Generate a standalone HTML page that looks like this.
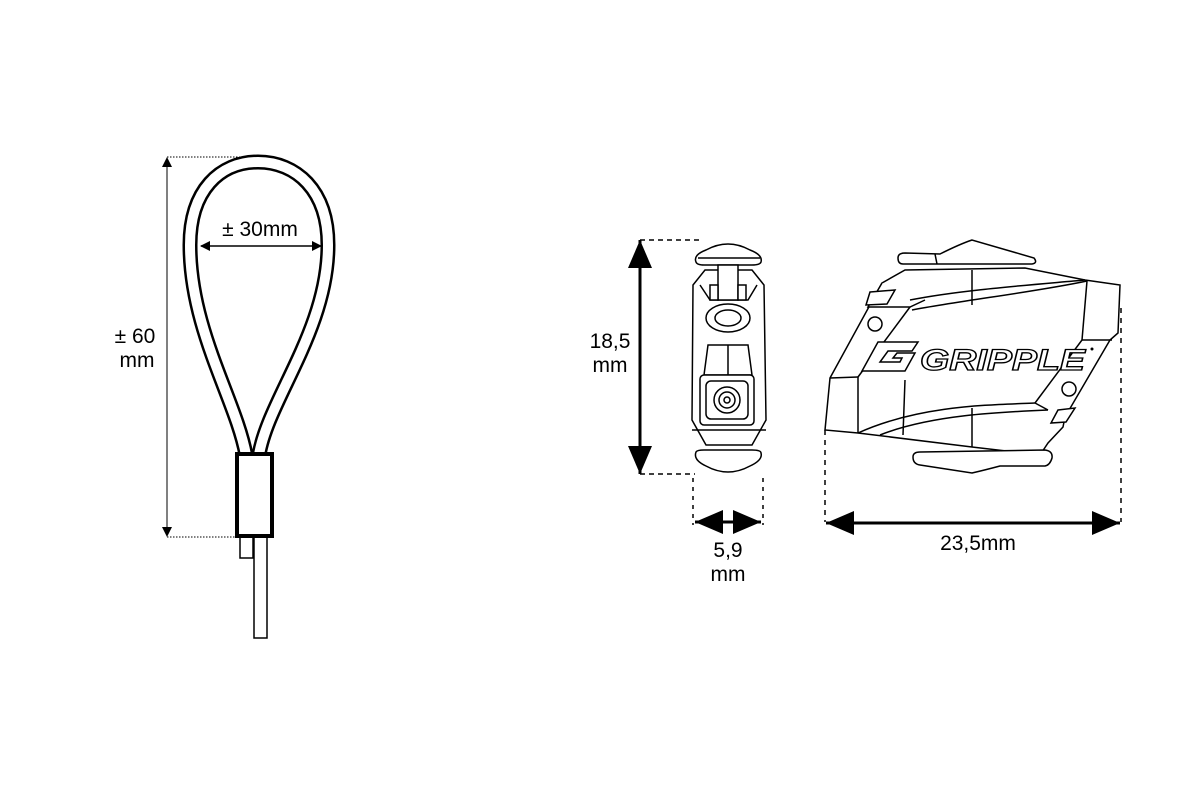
<!DOCTYPE html>
<html><head><meta charset="utf-8"><style>
html,body{margin:0;padding:0;background:#fff}
svg{display:block}
text{font-family:"Liberation Sans",sans-serif}
</style></head><body>
<svg width="1198" height="798" viewBox="0 0 1198 798" xmlns="http://www.w3.org/2000/svg">
<defs>
<marker id="a" markerWidth="10" markerHeight="10" refX="9" refY="5" orient="auto-start-reverse" markerUnits="userSpaceOnUse"><path d="M0,0 L10,5 L0,10 Z" fill="#000"/></marker>
<marker id="b" markerWidth="30" markerHeight="24" refX="28" refY="12" orient="auto-start-reverse" markerUnits="userSpaceOnUse"><path d="M0,0 L28,12 L0,24 Z" fill="#000"/></marker>
</defs>

<!-- LEFT: wire loop -->
<line x1="167" y1="157" x2="240" y2="157" stroke="#000" stroke-width="1" stroke-dasharray="1.5,1.5"/>
<line x1="167" y1="537" x2="240" y2="537" stroke="#000" stroke-width="1" stroke-dasharray="1.5,1.5"/>
<line x1="167" y1="158" x2="167" y2="536" stroke="#000" stroke-width="1" marker-start="url(#a)" marker-end="url(#a)"/>
<path d="M246,455 C236,400 190,330 190,245 C190,190 220,162 258,162 C296,162 328,190 328,245 C328,330 268,400 259,455" fill="none" stroke="#000" stroke-width="15"/>
<path d="M246,455 C236,400 190,330 190,245 C190,190 220,162 258,162 C296,162 328,190 328,245 C328,330 268,400 259,455" fill="none" stroke="#fff" stroke-width="10"/>
<rect x="254" y="537" width="13" height="101" fill="#fff" stroke="#000" stroke-width="1.5"/>
<rect x="240" y="537" width="13" height="21" fill="#fff" stroke="#000" stroke-width="1.5"/>
<rect x="237" y="454" width="35" height="82" fill="#fff" stroke="#000" stroke-width="4"/>
<line x1="201" y1="246" x2="321" y2="246" stroke="#000" stroke-width="1.5" marker-start="url(#a)" marker-end="url(#a)"/>
<text x="260" y="236" font-size="21" text-anchor="middle" fill="#000">± 30mm</text>
<text x="135" y="343" font-size="21" text-anchor="middle" fill="#000">± 60</text>
<text x="137" y="367" font-size="21" text-anchor="middle" fill="#000">mm</text>

<!-- MIDDLE: side view -->
<line x1="640" y1="240" x2="700" y2="240" stroke="#000" stroke-width="1.5" stroke-dasharray="5,4"/>
<line x1="640" y1="474" x2="695" y2="474" stroke="#000" stroke-width="1.5" stroke-dasharray="5,4"/>
<line x1="640" y1="240" x2="640" y2="474" stroke="#000" stroke-width="3" marker-start="url(#b)" marker-end="url(#b)"/>
<text x="610" y="348" font-size="21" text-anchor="middle" fill="#000">18,5</text>
<text x="610" y="372" font-size="21" text-anchor="middle" fill="#000">mm</text>
<g fill="#fff" stroke="#000" stroke-width="1.5">
<path d="M696,262 Q693,255 706,250 Q728,238 750,250 Q763,255 761,262 Q760,265 752,265 L704,265 Q697,265 696,262 Z"/>
<line x1="698" y1="258" x2="760" y2="258"/>
<path d="M693,285 L705,270 L752,270 L764,285 L766,420 L752,445 L706,445 L692,420 Z"/>
<path d="M700,285 L710,300 L748,300 L757,285"/>
<ellipse cx="728" cy="318" rx="22" ry="14"/>
<ellipse cx="728" cy="318" rx="13" ry="8"/>
<rect x="718" y="265" width="20" height="35"/>
<rect x="710" y="285" width="8" height="15"/>
<rect x="738" y="285" width="8" height="15"/>
<path d="M708,345 L748,345 L752,375 L704,375 Z"/>
<line x1="728" y1="345" x2="728" y2="375"/>
<rect x="700" y="375" width="54" height="50" rx="4"/>
<rect x="706" y="381" width="42" height="38" rx="5"/>
<circle cx="727" cy="400" r="13"/>
<circle cx="727" cy="400" r="8"/>
<circle cx="727" cy="400" r="3"/>
<line x1="692" y1="430" x2="766" y2="430"/>
<path d="M696,452 Q697,450 704,450 L752,450 Q761,450 761,453 Q763,460 750,466 Q728,478 706,466 Q693,460 696,452 Z"/>
</g>
<line x1="693" y1="478" x2="693" y2="525" stroke="#000" stroke-width="1.5" stroke-dasharray="4,5"/>
<line x1="763" y1="478" x2="763" y2="525" stroke="#000" stroke-width="1.5" stroke-dasharray="4,5"/>
<line x1="695" y1="522" x2="761" y2="522" stroke="#000" stroke-width="3" marker-start="url(#b)" marker-end="url(#b)"/>
<text x="728" y="557" font-size="21" text-anchor="middle" fill="#000">5,9</text>
<text x="728" y="581" font-size="21" text-anchor="middle" fill="#000">mm</text>

<!-- RIGHT: gripple body -->
<g fill="#fff" stroke="#000" stroke-width="1.5">
<path d="M898,258 Q898,253 905,253 L940,254 Q960,244 972,240 L1034,258 Q1038,263 1032,264 L903,264 Q898,264 898,258 Z"/>
<line x1="935" y1="254" x2="937" y2="264"/>
<path d="M882,283 L905,270 L1025,268 L1085,280 L1120,285 L1118,333 L1110,340 L1065,417 L1063,427 L1048,443 L1040,455 L972,447 L858,433 L825,430 L830,378 Z"/>
<path d="M913,457 Q913,452 920,452 L1045,450 Q1053,451 1052,458 Q1050,465 1045,466 L1000,466 Q985,470 972,473 L920,465 Q913,464 913,457 Z"/>
<path d="M882,283 L868,307 L910,307 L925,300"/>
<path d="M910,300 C960,290 1030,285 1085,280"/>
<path d="M912,310 C965,300 1035,292 1087,281"/>
<path d="M910,307 L858,377"/>
<path d="M830,378 L858,377"/>
<line x1="858" y1="377" x2="858" y2="433"/>
<line x1="1087" y1="281" x2="1082" y2="340"/>
<line x1="1082" y1="340" x2="1112" y2="340"/>
<path d="M1082,340 L1035,403"/>
<path d="M858,433 C920,405 990,405 1035,403"/>
<path d="M880,435 C930,415 1000,412 1048,410"/>
<line x1="1035" y1="403" x2="1048" y2="410"/>
<line x1="972" y1="270" x2="972" y2="305"/>
<line x1="972" y1="408" x2="972" y2="447"/>
<line x1="905" y1="380" x2="903" y2="435"/>
<circle cx="875" cy="324" r="7"/>
<circle cx="1069" cy="389" r="7"/>
<path d="M870,292 L895,290 L887,304 L866,305 Z"/>
<path d="M1058,410 L1075,408 L1066,422 L1051,423 Z"/>
<path d="M878,342 L918,342 L912,351 L888,351 L880,362 L900,362 L902,358 L893,358 L897,353 L915,353 L905,371 L862,371 Z"/>
</g>
<text x="920" y="370" font-size="30" font-weight="bold" font-style="italic" style="fill:#fff;stroke:#000;stroke-width:1.3px" textLength="165" lengthAdjust="spacingAndGlyphs">GRIPPLE</text>
<circle cx="1092" cy="349" r="1.5" fill="#000"/>
<line x1="825" y1="430" x2="825" y2="522" stroke="#000" stroke-width="1.5" stroke-dasharray="5,5"/>
<line x1="1121" y1="308" x2="1121" y2="522" stroke="#000" stroke-width="1.5" stroke-dasharray="5,5"/>
<line x1="826" y1="523" x2="1120" y2="523" stroke="#000" stroke-width="3" marker-start="url(#b)" marker-end="url(#b)"/>
<text x="978" y="550" font-size="21" text-anchor="middle" fill="#000">23,5mm</text>
</svg>
</body></html>
